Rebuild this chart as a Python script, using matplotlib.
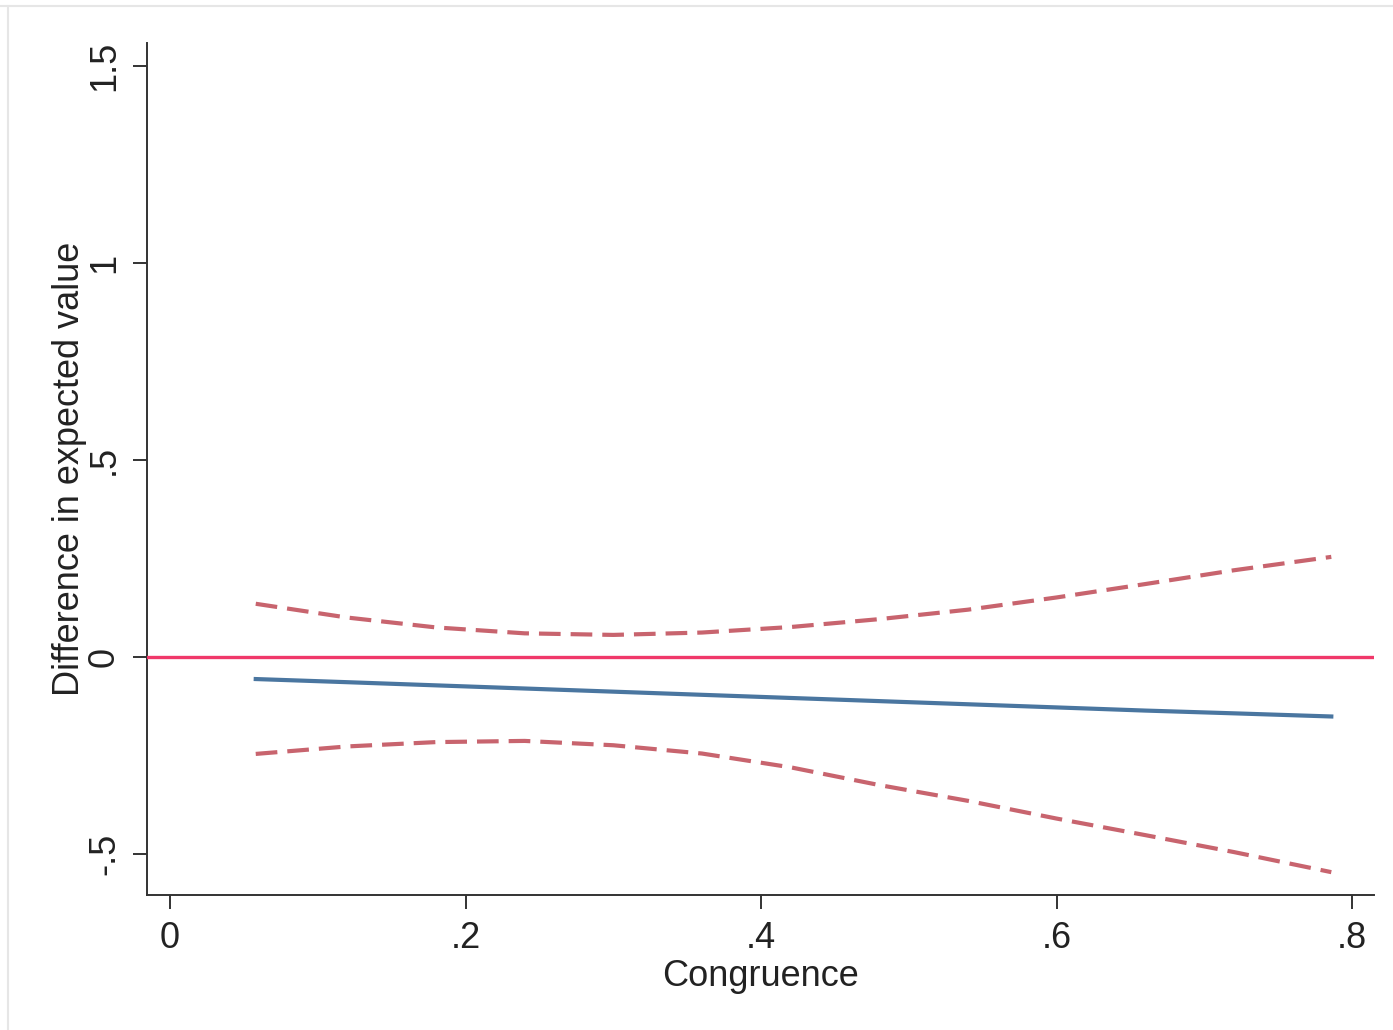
import matplotlib
matplotlib.use('Agg')
import matplotlib.pyplot as plt
from matplotlib.lines import Line2D

# values
congruence = [0.058, 0.12, 0.18, 0.24, 0.30, 0.36, 0.42, 0.48, 0.54, 0.60, 0.66, 0.72, 0.786]
diff = [-0.056, -0.064, -0.072, -0.080, -0.088, -0.096, -0.104, -0.112, -0.120, -0.128, -0.136, -0.143, -0.151]
upper = [0.135, 0.100, 0.075, 0.060, 0.056, 0.062, 0.076, 0.096, 0.120, 0.151, 0.185, 0.220, 0.254]
lower = [-0.246, -0.227, -0.216, -0.213, -0.224, -0.245, -0.280, -0.325, -0.365, -0.410, -0.452, -0.495, -0.546]

xticks = [0, 0.2, 0.4, 0.6, 0.8]
xticklabels = ['0', '.2', '.4', '.6', '.8']
yticks = [-0.5, 0, 0.5, 1, 1.5]
yticklabels = ['-.5', '0', '.5', '1', '1.5']

plt.rcParams['font.family'] = ['Liberation Sans', 'DejaVu Sans']

W, H = 1393, 1030
fig = plt.figure(figsize=(W / 100, H / 100), dpi=100)
ax = fig.add_axes([147 / W, 1 - 895 / H, (1374 - 147) / W, (895 - 43) / H])

ax.axhline(0, color='#f0386a', lw=2.4, zorder=3)
ax.plot(congruence, diff, color='#4a76a0', lw=3.0, zorder=4)
ax.plot(congruence, upper, color='#c8646e', lw=3.0, dashes=(5.2, 2.4), zorder=4)
ax.plot(congruence, lower, color='#c8646e', lw=3.0, dashes=(5.2, 2.4), zorder=4)

ax.set_xlim(-0.0156, 0.8149)
ax.set_ylim(-0.604, 1.558)
ax.set_xticks(xticks)
ax.set_xticklabels(xticklabels)
ax.set_yticks(yticks)
ax.set_yticklabels(yticklabels, rotation=90, va='center')

for s in ['top', 'right']:
    ax.spines[s].set_visible(False)
for s in ['left', 'bottom']:
    ax.spines[s].set_color('#333333')
    ax.spines[s].set_linewidth(1.4)
ax.tick_params(length=10, width=1.4, color='#333333', labelsize=26, pad=9, labelcolor='#222222')
ax.tick_params(axis='y', pad=8)

ax.set_xlabel('Congruence', fontsize=26, color='#222222', labelpad=2)
ax.set_ylabel('Difference in expected value', fontsize=26, color='#222222', labelpad=0)

# light frame at top and left
fig.add_artist(Line2D([0, 1], [1 - 6 / H, 1 - 6 / H], transform=fig.transFigure, color='#e6e6e6', lw=1.5))
fig.add_artist(Line2D([8 / W, 8 / W], [0, 1 - 6 / H], transform=fig.transFigure, color='#e6e6e6', lw=1.5))

fig.savefig('out.png', dpi=100)
